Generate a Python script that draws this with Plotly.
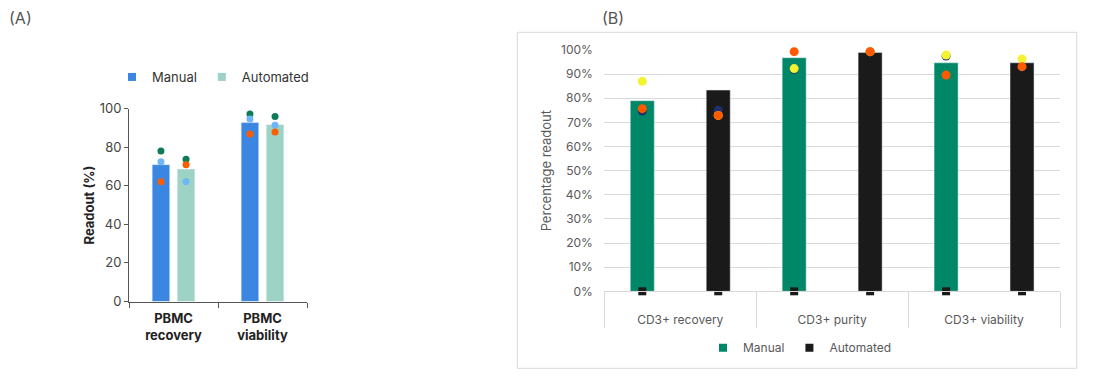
import plotly.graph_objects as go
import numpy as np

# page body has an 8px margin, so the figure is laid out 8px smaller and shifted
OX, OY = 8, 8
W, H = 1094 - OX, 376 - OY

# ---------------- Panel A data ----------------
cats_a = ["PBMC<br>recovery", "PBMC<br>viability"]
a_manual = [70.9, 92.7]
a_auto = [68.6, 91.6]
a_d1_manual = [78.0, 97.2]   # dark green donor
a_d1_auto = [73.7, 95.8]
a_d2_manual = [72.4, 94.6]   # light blue donor
a_d2_auto = [62.0, 91.3]
a_d3_manual = [62.0, 86.8]   # orange donor
a_d3_auto = [70.9, 87.8]
a_yticks = [0, 20, 40, 60, 80, 100]

# ---------------- Panel B data ----------------
cats_b = ["CD3+ recovery", "CD3+ purity", "CD3+ viability"]
b_manual = [79.0, 96.8, 94.7]
b_auto = [83.4, 99.0, 94.7]
b_d1_manual = [74.7, 92.0, 97.5]   # navy donor
b_d1_auto = [75.0, 99.3, 93.0]
b_d2_manual = [87.0, 92.3, 97.9]   # yellow donor
b_d2_auto = [72.9, 99.3, 96.3]
b_d3_manual = [75.7, 99.3, 89.6]   # orange donor
b_d3_auto = [72.9, 99.3, 93.1]
b_zero = [0, 0, 0]
b_yticks = [0, 10, 20, 30, 40, 50, 60, 70, 80, 90, 100]
b_yticktext = [f"{v}%" for v in b_yticks]

FONT = "Inter"

fig = go.Figure()

# ---------- Panel A ----------
xa = np.arange(len(cats_a))
OFF_A, WID_A = 0.141, 0.197
C_A_MAN, C_A_AUT = "#3B86E0", "#9DD3C4"
fig.add_trace(go.Bar(x=xa - OFF_A, y=a_manual, width=WID_A, marker_color=C_A_MAN,
                     showlegend=False, xaxis="x", yaxis="y"))
fig.add_trace(go.Bar(x=xa + OFF_A, y=a_auto, width=WID_A, marker_color=C_A_AUT,
                     showlegend=False, xaxis="x", yaxis="y"))
for man, aut, col in [(a_d1_manual, a_d1_auto, "#0E7A56"),
                      (a_d2_manual, a_d2_auto, "#6FB6F7"),
                      (a_d3_manual, a_d3_auto, "#FF5C00")]:
    fig.add_trace(go.Scatter(x=np.concatenate([xa - OFF_A, xa + OFF_A]), y=man + aut,
                             mode="markers", marker=dict(color=col, size=7),
                             showlegend=False, cliponaxis=False, xaxis="x", yaxis="y"))
# legend entries A
fig.add_trace(go.Scatter(x=[None], y=[None], mode="markers", name="Manual",
                         marker=dict(symbol="square", size=8, color=C_A_MAN),
                         legend="legend", xaxis="x", yaxis="y"))
fig.add_trace(go.Scatter(x=[None], y=[None], mode="markers", name="Automated",
                         marker=dict(symbol="square", size=8, color=C_A_AUT),
                         legend="legend", xaxis="x", yaxis="y"))

# ---------- Panel B ----------
xb = np.arange(len(cats_b))
OFF_B, WID_B = 0.25, 0.158
C_B_MAN, C_B_AUT = "#008768", "#1A1A1A"
fig.add_trace(go.Bar(x=xb - OFF_B, y=b_manual, width=WID_B, marker_color=C_B_MAN,
                     showlegend=False, xaxis="x2", yaxis="y2"))
fig.add_trace(go.Bar(x=xb + OFF_B, y=b_auto, width=WID_B, marker_color=C_B_AUT,
                     showlegend=False, xaxis="x2", yaxis="y2"))
fig.add_trace(go.Scatter(x=np.concatenate([xb - OFF_B, xb + OFF_B]), y=b_zero + b_zero,
                         mode="markers", marker=dict(symbol="square", size=8, color="#1A1A1A",
                                                     line=dict(width=0)),
                         showlegend=False, cliponaxis=False, xaxis="x2", yaxis="y2"))
for man, aut, col in [(b_d1_manual, b_d1_auto, "#1F2F6B"),
                      (b_d2_manual, b_d2_auto, "#F5F230"),
                      (b_d3_manual, b_d3_auto, "#FF5A00")]:
    fig.add_trace(go.Scatter(x=np.concatenate([xb - OFF_B, xb + OFF_B]), y=man + aut,
                             mode="markers", marker=dict(color=col, size=9),
                             showlegend=False, cliponaxis=False, xaxis="x2", yaxis="y2"))
fig.add_trace(go.Scatter(x=[None], y=[None], mode="markers", name="Manual",
                         marker=dict(symbol="square", size=8, color=C_B_MAN),
                         legend="legend2", xaxis="x2", yaxis="y2"))
fig.add_trace(go.Scatter(x=[None], y=[None], mode="markers", name="Automated",
                         marker=dict(symbol="square", size=8, color=C_B_AUT),
                         legend="legend2", xaxis="x2", yaxis="y2"))


def px(x):
    return (x - OX) / W


def py(y):
    return 1 - (y - OY) / H


AX_A = "#555555"

fig.update_layout(
    width=W, height=H, autosize=False,
    margin=dict(l=0, r=0, t=0, b=0, pad=0),
    paper_bgcolor="white", plot_bgcolor="white",
    font=dict(family=FONT, color="#333333"),
    barmode="overlay",
    xaxis=dict(domain=[px(129), px(307)], range=[-0.5, 1.5], anchor="y", automargin=False,
               tickmode="array", tickvals=xa, ticktext=cats_a,
               ticks="outside", ticklen=5, tickcolor="rgba(0,0,0,0)",
               tickfont=dict(size=13, color="#222222", family=FONT, weight="bold"),
               showline=True, linecolor=AX_A, linewidth=1,
               showgrid=False, zeroline=False,
               minor=dict(tick0=-0.5, dtick=1, ticks="outside", ticklen=5,
                          tickcolor=AX_A, showgrid=False)),
    yaxis=dict(domain=[py(301.5), py(108.5)], range=[0, 100], anchor="x", automargin=False,
               tickmode="array", tickvals=a_yticks,
               ticks="outside", ticklen=4, tickcolor=AX_A,
               tickfont=dict(size=13, color="#444444"),
               showline=True, linecolor=AX_A, linewidth=1,
               showgrid=False, zeroline=False,
               title=dict(text="Readout (%)", standoff=2,
                          font=dict(size=13, color="#222222", weight="bold"))),
    xaxis2=dict(domain=[px(604.3), px(1060)], range=[-0.5, 2.5], anchor="y2", automargin=False,
                tickmode="array", tickvals=xb, ticktext=cats_b,
                ticks="outside", ticklen=17, tickcolor="rgba(0,0,0,0)",
                tickfont=dict(size=12, color="#595959"),
                showline=True, linecolor="#D9D9D9", linewidth=1,
                showgrid=False, zeroline=False,
                minor=dict(tick0=-0.5, dtick=1, ticks="outside", ticklen=36,
                           tickcolor="#D9D9D9", showgrid=False)),
    yaxis2=dict(domain=[py(291.3), py(50)], range=[0, 100], anchor="x2", automargin=False,
                tickmode="array", tickvals=b_yticks, ticktext=b_yticktext,
                ticks="outside", ticklen=8, tickcolor="rgba(0,0,0,0)",
                tickfont=dict(size=12, color="#595959"),
                showline=False, showgrid=True, gridcolor="#D9D9D9", zeroline=False,
                title=dict(text="Percentage readout", standoff=6,
                           font=dict(size=13, color="#595959"))),
    legend=dict(orientation="h", x=px(112), xanchor="left", y=py(77), yanchor="middle",
                font=dict(size=13, color="#333333"), itemwidth=30, entrywidth=0,
                bgcolor="rgba(0,0,0,0)"),
    legend2=dict(orientation="h", x=px(800), xanchor="center", y=py(347.7), yanchor="middle",
                 font=dict(size=12, color="#595959"), itemwidth=30,
                 bgcolor="rgba(0,0,0,0)"),
    shapes=[dict(type="rect", xref="paper", yref="paper",
                 x0=px(517.3), x1=px(1076.7), y0=py(368.3), y1=py(32.3),
                 line=dict(color="#D9D9D9", width=1), layer="below")],
    annotations=[
        dict(text="(A)", x=px(7), y=py(18), xref="paper", yref="paper",
             xanchor="left", yanchor="middle", showarrow=False,
             font=dict(size=16, color="#555555")),
        dict(text="(B)", x=px(600), y=py(18), xref="paper", yref="paper",
             xanchor="left", yanchor="middle", showarrow=False,
             font=dict(size=16, color="#555555")),
    ],
)

fig.write_html("out.html")
